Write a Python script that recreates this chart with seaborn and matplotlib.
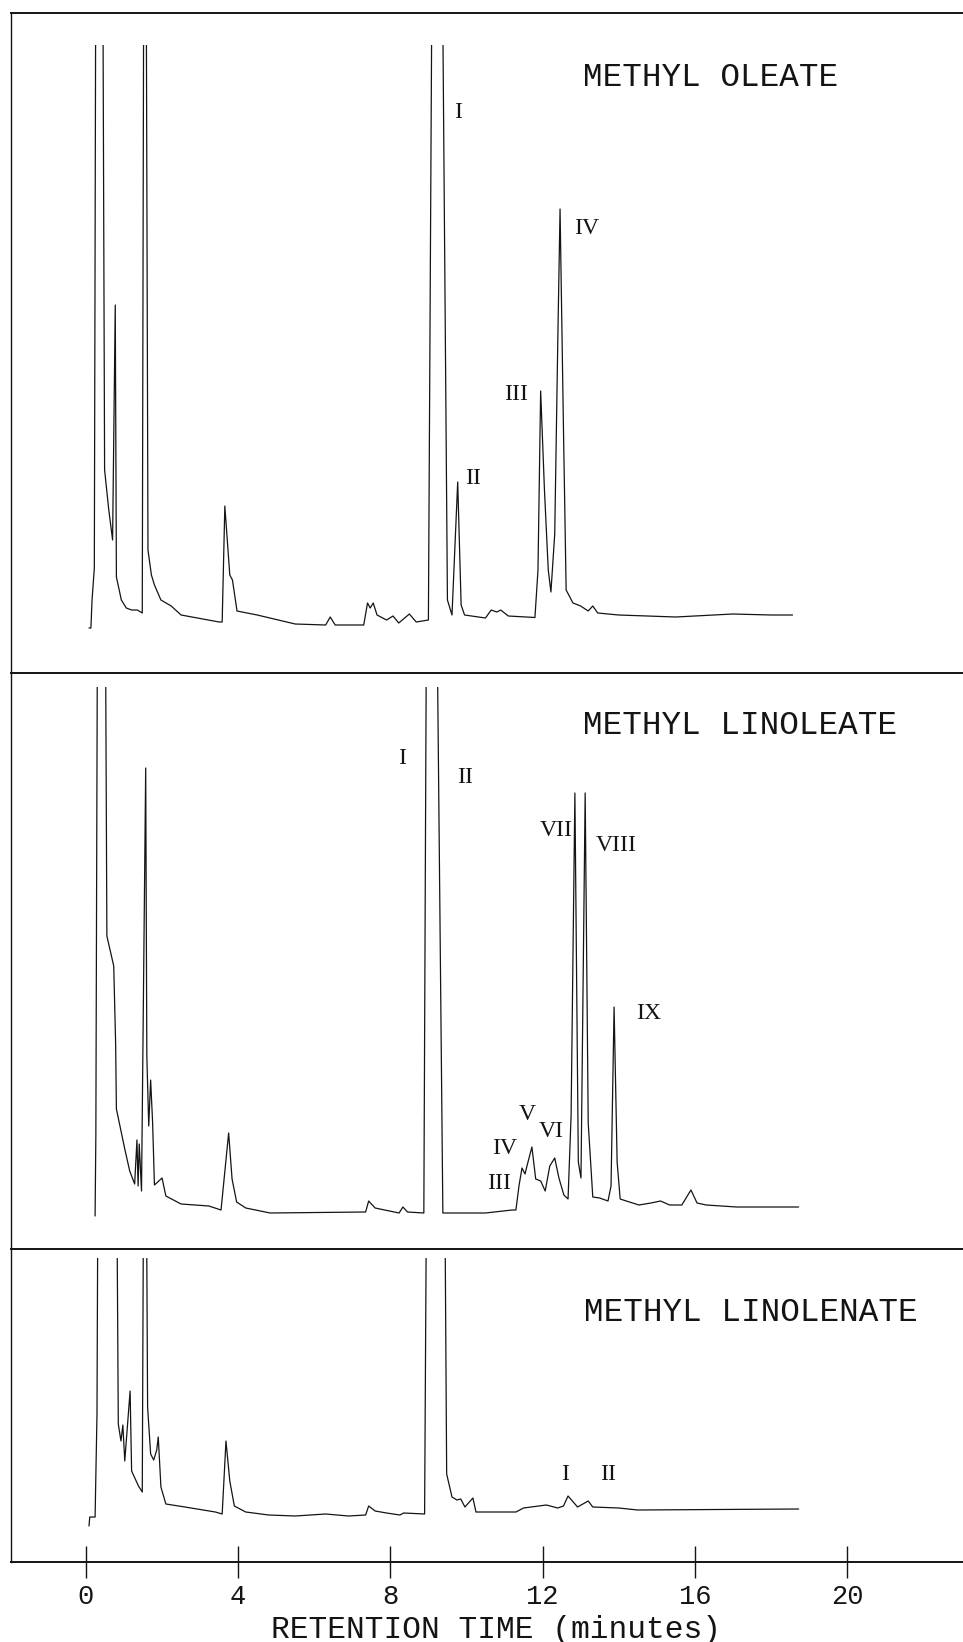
import numpy as np
import pandas as pd
import matplotlib
matplotlib.use("Agg")
import matplotlib.pyplot as plt
from matplotlib.patches import Rectangle
import seaborn as sns

# ---------------- data (retention time in minutes, detector signal in arbitrary units) -------------
oleate_t = [0.08, 0.13, 0.16, 0.22, 0.26, 0.44, 0.49, 0.60, 0.70, 0.77, 0.80, 0.93, 1.06, 1.20, 1.35, 1.48,
            1.52, 1.58, 1.63, 1.72, 1.80, 1.97, 2.24, 2.5, 3.5, 3.58, 3.65, 3.78, 3.85, 3.97, 4.5, 5.5, 6.3, 6.42,
            6.55, 7.3, 7.40, 7.47, 7.55, 7.65, 7.9, 8.07, 8.22, 8.5, 8.68, 9.0, 9.1, 9.36, 9.50, 9.62,
            9.77, 9.86, 9.95, 10.5, 10.65, 10.8, 10.9, 11.1, 11.8, 11.88, 11.95, 12.05, 12.15, 12.22,
            12.32, 12.40, 12.46, 12.55, 12.62, 12.80, 13.0, 13.2, 13.32, 13.45, 14.0, 15.5, 17.0, 18.0, 18.57]
oleate_s = [2, 2, 30, 62, 700, 700, 160, 120, 90, 325, 53, 30, 22, 20, 20, 17,
            700, 700, 80, 55, 45, 30, 24, 15, 8, 8, 124, 55, 50, 19, 15, 6, 5, 13,
            5, 5, 27, 22, 27, 15, 10, 14, 7, 16, 8, 10, 700, 700, 30, 15,
            148, 25, 15, 12, 20, 18, 20, 14, 12.5, 60, 239, 140, 60, 38,
            96, 288, 421, 200, 40, 27, 24, 19, 24, 17, 15, 13, 16, 15, 15]

linoleate_t = [0.24, 0.26, 0.31, 0.50, 0.55, 0.73, 0.78, 0.80, 1.02, 1.15, 1.28, 1.34, 1.37, 1.40, 1.46,
               1.57, 1.60, 1.65, 1.70, 1.75, 1.80, 2.0, 2.1, 2.5, 3.23, 3.55, 3.75, 3.84, 3.96, 4.2,
               4.84, 7.35, 7.43, 7.6, 8.23, 8.33, 8.45, 8.88, 8.96, 9.20, 9.38, 10.5, 11.2, 11.3, 11.38,
               11.46, 11.54, 11.59, 11.72, 11.82, 11.95, 12.07, 12.19, 12.32, 12.43, 12.56, 12.67, 12.75,
               12.85, 12.94, 13.01, 13.12, 13.20, 13.32, 13.50, 13.72, 13.80, 13.88, 13.96, 14.04, 14.2,
               14.37, 14.53, 14.85, 15.1, 15.34, 15.66, 15.9, 16.06, 16.3, 17.1, 18.73]
linoleate_s = [0, 81, 700, 700, 280, 250, 172, 107, 67, 45, 32, 76, 30, 72, 25,
               448, 160, 90, 136, 95, 31, 38, 20, 12, 10, 6, 83, 37, 14, 8,
               3, 4, 15, 8, 3, 9, 4, 3, 700, 700, 3, 3, 6, 6, 30,
               48, 42, 50, 69, 37, 35, 25, 50, 58, 38, 21, 17, 100,
               423, 54, 38, 423, 93, 19, 18, 15, 30, 209, 54, 17, 15,
               13, 11, 13, 15, 11, 11, 26, 13, 11, 9, 9]

linolenate_t = [0.08, 0.10, 0.24, 0.29, 0.32, 0.80, 0.85, 0.92, 0.97, 1.02, 1.16, 1.20, 1.38, 1.48, 1.52,
                1.58, 1.62, 1.70, 1.78, 1.86, 1.90, 1.97, 2.10, 2.6, 3.4, 3.58, 3.68, 3.78, 3.90, 4.2,
                4.8, 5.5, 6.3, 6.9, 7.35, 7.43, 7.6, 7.9, 8.25, 8.35, 8.9, 8.96, 9.42, 9.48, 9.62, 9.75,
                9.85, 9.96, 10.17, 10.25, 11.3, 11.5, 11.9, 12.1, 12.4, 12.55, 12.67, 12.92, 13.2, 13.32,
                14.0, 14.5, 18.73]
linolenate_s = [-6, 3, 3, 106, 400, 400, 96, 79, 95, 59, 129, 49, 34, 28, 400,
                400, 113, 66, 60, 70, 83, 33, 16, 13, 8, 6, 79, 39, 14, 8,
                5, 4, 6, 4, 5, 14, 9, 7, 5, 7, 6, 400, 400, 46, 23, 20,
                21, 13, 22, 8, 8, 12, 14, 15, 12, 14, 24, 13, 19, 13,
                12, 10, 11]

panel_titles = ["METHYL OLEATE", "METHYL LINOLEATE", "METHYL LINOLENATE"]

# peak labels: (text, retention time, signal level)
oleate_labels = [("I", 9.78, 518), ("II", 10.17, 152), ("III", 11.30, 236), ("IV", 13.17, 401)]
linoleate_labels = [("I", 8.30, 458), ("II", 9.96, 439), ("VII", 12.35, 386), ("VIII", 13.93, 371),
                    ("IX", 14.80, 203), ("V", 11.59, 102), ("VI", 12.22, 85), ("IV", 11.01, 68),
                    ("III", 10.85, 33)]
linolenate_labels = [("I", 12.59, 46), ("II", 13.72, 46)]

x_ticks = [0, 4, 8, 12, 16, 20]
x_label = "RETENTION TIME (minutes)"

# ---------------- figure ----------------
sns.set_style("white")
plt.rcParams["font.family"] = ["Liberation Mono", "DejaVu Sans"]

W, H = 963, 1642
fig = plt.figure(figsize=(W / 100, H / 100), dpi=100)
fig.patch.set_facecolor("white")

# panel pixel bands (top, bottom) and plotting parameters
bands = [(13, 673), (673, 1249), (1249, 1562)]
ylims = [(-43, 617), (-33, 543), (-42, 271)]
clips = [585, 529, 262]
title_pos = [(13.06, 553), (13.06, 491), (13.09, 208)]
xlim = (-1.97, 23.05)
left_px = 11

traces = [(oleate_t, oleate_s), (linoleate_t, linoleate_s), (linolenate_t, linolenate_s)]
labels = [oleate_labels, linoleate_labels, linolenate_labels]

ink = "#141414"
for i, ((top, bot), (t, s)) in enumerate(zip(bands, traces)):
    ax = fig.add_axes([left_px / W, 1 - bot / H, (W - left_px) / W, (bot - top) / H])
    df = pd.DataFrame({"time": t, "signal": s})
    sns.lineplot(data=df, x="time", y="signal", ax=ax, color=ink, linewidth=0.9,
                 sort=False, estimator=None)
    ax.set_xlim(*xlim)
    ax.set_ylim(*ylims[i])
    line = ax.lines[-1]
    clip_rect = Rectangle((xlim[0], ylims[i][0]), xlim[1] - xlim[0], clips[i] - ylims[i][0],
                          transform=ax.transData, facecolor="none", edgecolor="none")
    line.set_clip_path(clip_rect)

    ax.spines["right"].set_visible(False)
    ax.spines["left"].set_linewidth(1.0)
    ax.spines["top"].set_linewidth(1.4)
    ax.spines["bottom"].set_visible(i == 2)
    ax.spines["bottom"].set_linewidth(1.4)
    for sp in ax.spines.values():
        sp.set_color(ink)
    ax.set_yticks([])
    ax.set_ylabel("")
    ax.set_facecolor("white")

    tx, ty = title_pos[i]
    ax.text(tx, ty, panel_titles[i], ha="left", va="center", fontsize=23.5,
            family=["Liberation Mono", "DejaVu Sans"], color=ink)
    for txt, lx, ly in labels[i]:
        ax.text(lx, ly, txt, ha="center", va="center", fontsize=17,
                family=["Liberation Serif", "DejaVu Serif"], color=ink)

    if i < 2:
        ax.set_xticks([])
        ax.set_xlabel("")
    else:
        ax.set_xticks(x_ticks)
        ax.set_xticklabels([str(v) for v in x_ticks], fontsize=19.5)
        ax.tick_params(axis="x", direction="inout", length=23, width=1.0, pad=4,
                       color=ink, labelcolor=ink, bottom=True)
        ax.set_xlabel(x_label, fontsize=22.5, color=ink)
        ax.xaxis.label.set_va("center")
        ax.xaxis.set_label_coords((496 - left_px) / (W - left_px), -(1630 - bot) / (bot - top))

fig.savefig("out.png", dpi=100, facecolor="white")
